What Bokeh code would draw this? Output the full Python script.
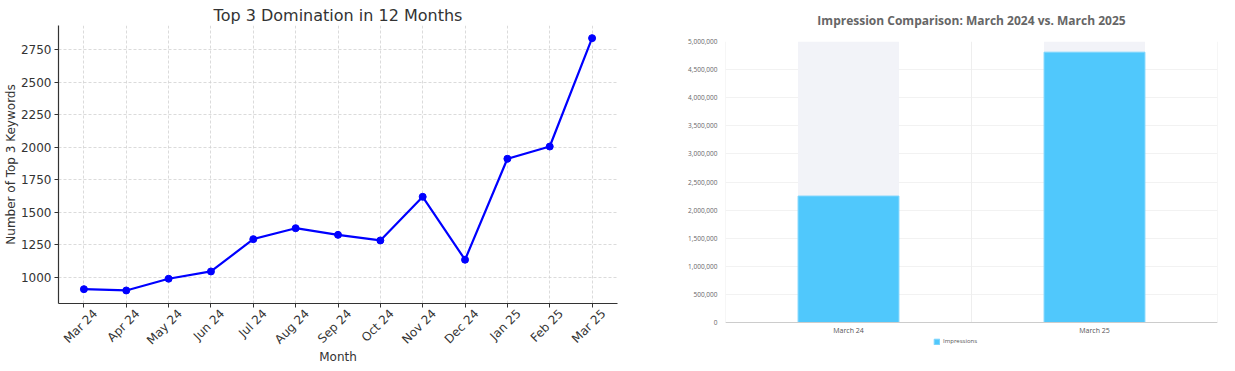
import math
from bokeh.plotting import figure
from bokeh.layouts import row, column
from bokeh.core.properties import value
from bokeh.models import (Range1d, FactorRange, FixedTicker, NumeralTickFormatter,
                          CustomJSTickFormatter, Span, Legend, LegendItem, LabelSet,
                          ColumnDataSource)
from bokeh.embed import file_html
from bokeh.resources import INLINE

# ---------------- data ----------------
months = ["Mar 24", "Apr 24", "May 24", "Jun 24", "Jul 24", "Aug 24", "Sep 24",
          "Oct 24", "Nov 24", "Dec 24", "Jan 25", "Feb 25", "Mar 25"]
top3_keywords = [910, 900, 990, 1046, 1294, 1378, 1327, 1284, 1619, 1136, 1911, 2005, 2837]
y_ticks_left = [1000, 1250, 1500, 1750, 2000, 2250, 2500, 2750]

periods = ["March 24", "March 25"]
impressions = [2250000, 4810000]
y_ticks_right = [0, 500000, 1000000, 1500000, 2000000, 2500000,
                 3000000, 3500000, 4000000, 4500000, 5000000]
y_max_right = 5000000

FONT = "DejaVu Sans"
H = 370

# ---------------- left: line chart ----------------
xs = list(range(len(months)))
p1 = figure(width=640, height=H, output_backend="svg", toolbar_location=None,
            x_range=Range1d(-0.6, len(months) - 1 + 0.6), y_range=Range1d(800, 2934),
            min_border_left=58, min_border_right=23, min_border_top=25, min_border_bottom=H - 303)
p1.title.text = "Top 3 Domination in 12 Months"
p1.title.text_font = FONT
p1.title.text_font_size = "16px"
p1.title.text_font_style = "normal"
p1.title.text_color = "#333333"
p1.title.align = "center"
p1.title.standoff = 2
p1.outline_line_color = None

# major ticks (label anchors) shifted so the rotated labels sit centred under
# the real tick marks, which are drawn as minor ticks
label_shift = 0.27
p1.xaxis.ticker = FixedTicker(ticks=[i + label_shift for i in xs], minor_ticks=xs)
p1.xaxis.formatter = CustomJSTickFormatter(args=dict(labels=months),
                                           code="return labels[Math.round(tick)] || ''")
p1.xaxis.major_label_orientation = math.pi / 4
p1.xaxis.major_tick_line_color = None
p1.xaxis.major_tick_out = 0
p1.xaxis.major_tick_in = 0
p1.xaxis.minor_tick_line_color = "#333333"
p1.xaxis.minor_tick_out = 4
p1.xaxis.minor_tick_in = 0
p1.xaxis.major_label_standoff = 4
p1.xaxis.axis_label = "Month"
p1.xaxis.axis_label_standoff = -5

p1.yaxis.ticker = FixedTicker(ticks=y_ticks_left)
p1.yaxis.axis_label = "Number of Top 3 Keywords"
p1.yaxis.major_tick_line_color = "#333333"
p1.yaxis.major_tick_in = 0
p1.yaxis.major_tick_out = 4
p1.yaxis.minor_tick_line_color = None
p1.yaxis.axis_label_standoff = 0
p1.yaxis.major_label_standoff = 3

for ax in (p1.xaxis[0], p1.yaxis[0]):
    ax.axis_label_text_font = FONT
    ax.axis_label_text_font_size = "12px"
    ax.axis_label_text_font_style = "normal"
    ax.axis_label_text_color = "#333333"
    ax.major_label_text_font = FONT
    ax.major_label_text_font_size = "12px"
    ax.major_label_text_color = "#333333"
    ax.axis_line_color = "#333333"
    ax.axis_line_width = 1.2

p1.grid.grid_line_color = "#d2d2d2"
p1.grid.grid_line_dash = "3 2"
p1.grid.grid_line_width = 0.8
p1.xgrid.ticker = FixedTicker(ticks=xs)

src1 = ColumnDataSource(dict(x=xs, y=top3_keywords))
p1.line("x", "y", source=src1, line_color="#0000ff", line_width=2.2)
p1.scatter("x", "y", source=src1, size=7, fill_color="#0000ff", line_color="#0000ff")

# ---------------- right: bar chart ----------------
# frame extends below the zero line so that category labels and legend sit inside it
frame_top, zero_px, frame_bottom = 41, 322, 352
y_min_right = -y_max_right * (frame_bottom - zero_px) / (zero_px - frame_top)
p2 = figure(width=595, height=H, output_backend="svg", toolbar_location=None,
            x_range=FactorRange(*periods), y_range=Range1d(y_min_right, y_max_right),
            min_border_left=85, min_border_right=18, min_border_top=frame_top,
            min_border_bottom=H - frame_bottom)
p2.title.text = "Impression Comparison: March 2024 vs. March 2025"
p2.title.text_font = "Open Sans"
p2.title.text_font_size = "12px"
p2.title.text_font_style = "bold"
p2.title.text_color = "#666666"
p2.title.align = "center"
p2.title.vertical_align = "top"
p2.title.offset = -12
p2.title.standoff = 22
p2.outline_line_color = None

src2 = ColumnDataSource(dict(x=periods, top=impressions, bg=[y_max_right] * len(periods)))
p2.vbar(x="x", top="bg", source=src2, width=0.41, fill_color="#f2f3f8", line_color=None)
bars = p2.vbar(x="x", top="top", source=src2, width=0.41, fill_color="#50c8fc",
               line_color="#7fd6fd", line_width=1)

# vertical grid lines at category boundaries, from 0 to the top of the scale
bounds = list(range(len(periods) + 1))
p2.segment(x0=bounds, x1=bounds, y0=[0] * len(bounds), y1=[y_max_right] * len(bounds),
           line_color="#eeeeee", line_width=1)
p2.add_layout(Span(location=0, dimension="width", line_color="#cccccc", line_width=1))

p2.xaxis.visible = False
p2.yaxis.ticker = FixedTicker(ticks=y_ticks_right)
p2.yaxis.formatter = NumeralTickFormatter(format="0,0")
p2.yaxis.major_label_text_font = "Open Sans"
p2.yaxis.major_label_text_font_size = "6.5px"
p2.yaxis.major_label_text_color = "#666666"
p2.yaxis.axis_line_color = None
p2.yaxis.major_tick_line_color = None
p2.yaxis.minor_tick_line_color = None
p2.yaxis.major_label_standoff = 2
p2.ygrid.grid_line_color = "#f2f2f2"
p2.xgrid.grid_line_color = None

cat_labels = LabelSet(x="x", y=0, text="x", source=ColumnDataSource(dict(x=periods)),
                      y_offset=-3, text_align="center", text_baseline="top",
                      text_font=value("Open Sans"), text_font_size=value("7px"),
                      text_color="#555555")
p2.add_layout(cat_labels)

legend = Legend(items=[LegendItem(label="Impressions", renderers=[bars])],
                location=(208, 7), orientation="horizontal",
                glyph_width=7, glyph_height=7, label_text_font="Open Sans",
                label_text_font_size="6px", label_text_color="#555555",
                label_height=7, border_line_color=None, background_fill_alpha=0,
                padding=0, spacing=2, label_standoff=3, margin=0)
p2.add_layout(legend, "center")

layout = row(column(p1), column(p2), spacing=0)
open("out.html", "w").write(file_html(layout, INLINE))
